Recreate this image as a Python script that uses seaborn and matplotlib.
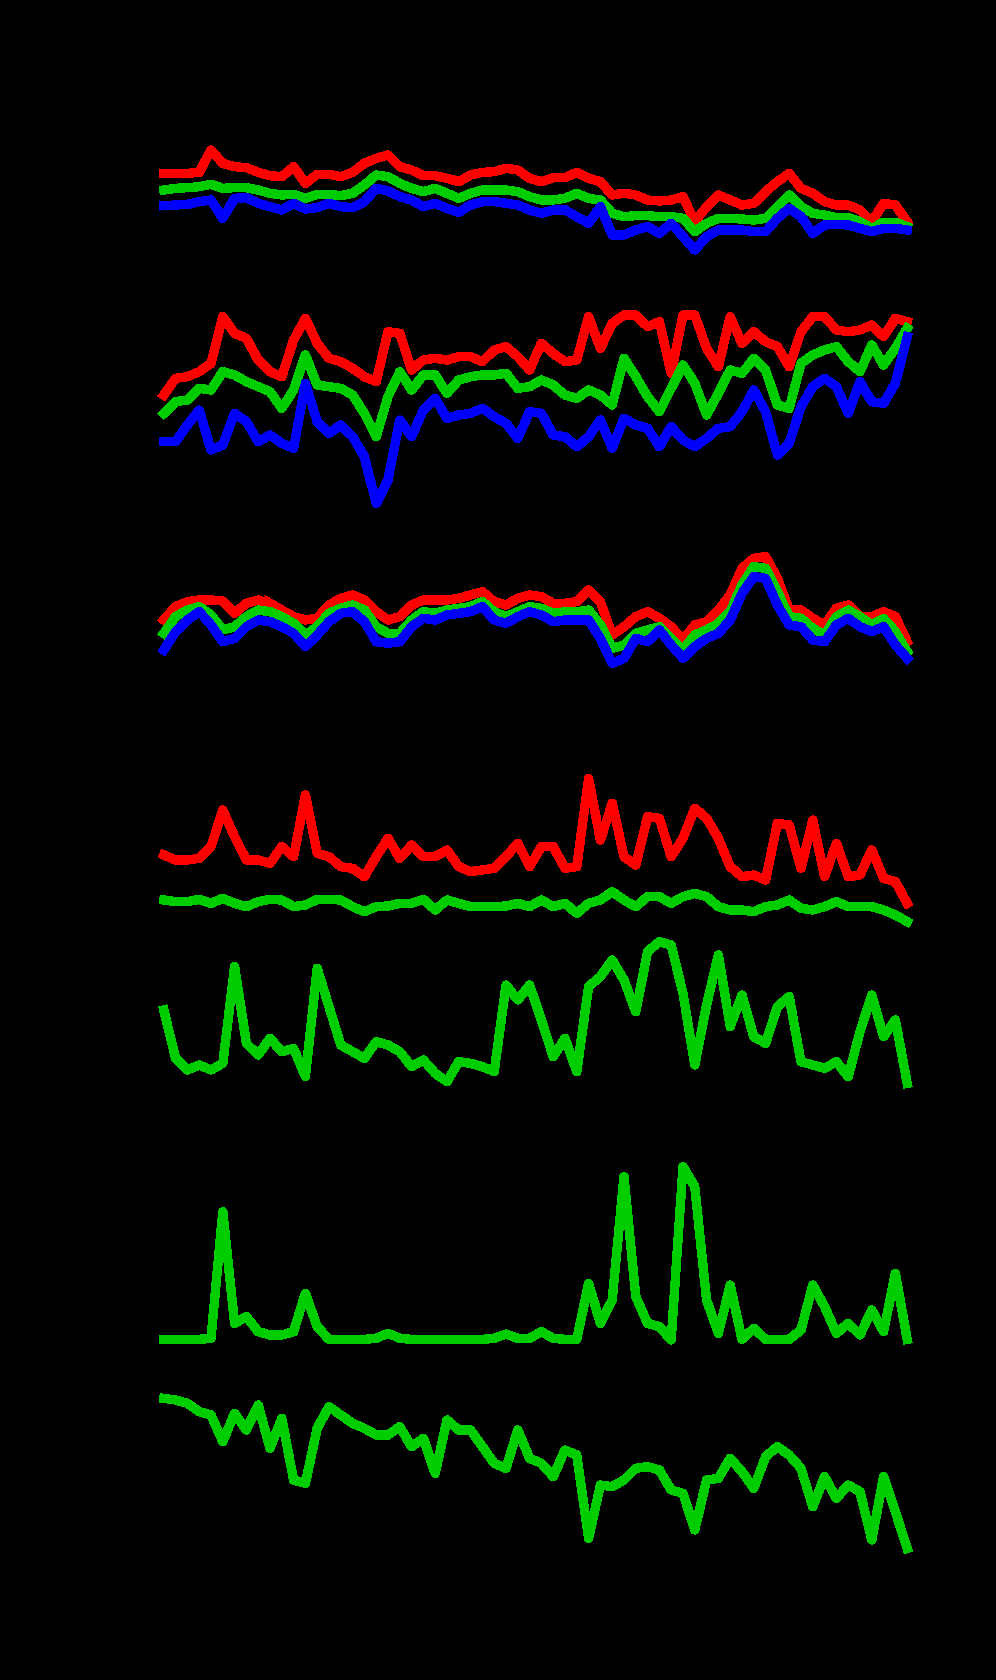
import numpy as np
import pandas as pd
import matplotlib
matplotlib.use("Agg")
import matplotlib.pyplot as plt
import seaborn as sns

# ── DATA (arbitrary units per panel) ──────────────────────────────────
a_red = [275, 275, 275, 278, 345, 305, 295, 292, 278, 268, 265, 295, 245, 272, 272, 265,
         278, 305, 320, 330, 295, 285, 268, 268, 260, 250, 270, 278, 280, 290, 285, 260,
         250, 262, 262, 278, 260, 250, 210, 215, 210, 195, 192, 195, 205, 130, 175, 210,
         195, 180, 185, 220, 250, 275, 230, 215, 190, 180, 180, 165, 130, 185, 180, 130]
a_green = [225, 230, 232, 235, 242, 230, 232, 232, 225, 215, 210, 212, 200, 212, 212, 208,
           215, 240, 270, 265, 245, 230, 220, 230, 215, 200, 215, 225, 225, 225, 220, 205,
           195, 195, 200, 215, 200, 195, 155, 145, 148, 148, 145, 145, 140, 100, 125, 140,
           140, 138, 135, 140, 175, 210, 175, 155, 150, 142, 142, 130, 110, 128, 128, 115]
a_blue = [178, 180, 182, 190, 195, 140, 200, 202, 185, 175, 165, 185, 168, 172, 185, 175,
          172, 190, 230, 222, 205, 195, 175, 185, 170, 158, 180, 190, 190, 185, 180, 165,
          155, 165, 165, 145, 125, 175, 90, 90, 105, 115, 95, 125, 85, 45, 85, 105,
          105, 105, 100, 100, 140, 170, 145, 95, 120, 122, 120, 110, 100, 110, 110, 105]

b_red = [360, 410, 415, 430, 455, 595, 545, 530, 465, 430, 415, 525, 590, 515, 470, 460,
         440, 415, 400, 550, 545, 435, 465, 470, 465, 475, 475, 460, 495, 505, 475, 435,
         515, 485, 460, 465, 595, 500, 575, 600, 600, 565, 580, 425, 600, 600, 500, 445,
         595, 515, 550, 520, 505, 445, 550, 595, 595, 555, 550, 555, 570, 535, 590, 580]
b_green = [305, 340, 345, 380, 375, 430, 420, 400, 385, 370, 320, 375, 480, 390, 385, 380,
           360, 305, 235, 355, 430, 375, 420, 420, 365, 405, 415, 420, 420, 425, 380, 385,
           405, 390, 360, 350, 375, 360, 330, 470, 415, 355, 310, 380, 450, 395, 300, 365,
           435, 425, 470, 435, 330, 320, 455, 480, 495, 505, 460, 430, 510, 450, 500, 560]
b_blue = [220, 220, 270, 315, 195, 210, 305, 280, 220, 240, 215, 200, 395, 280, 245, 270,
          235, 175, 35, 105, 285, 235, 315, 350, 290, 300, 305, 320, 295, 275, 230, 310,
          305, 240, 235, 205, 235, 285, 200, 290, 270, 260, 205, 265, 225, 205, 230, 260,
          265, 310, 375, 310, 180, 215, 325, 385, 410, 385, 305, 400, 340, 335, 395, 535]

c_red = [165, 205, 220, 225, 225, 222, 185, 215, 225, 215, 195, 175, 165, 170, 210, 230,
         240, 225, 190, 165, 175, 210, 225, 225, 225, 230, 240, 250, 220, 210, 230, 240,
         235, 215, 215, 220, 255, 220, 120, 145, 175, 190, 170, 145, 105, 150, 160, 195,
         240, 320, 350, 355, 290, 195, 195, 170, 150, 200, 210, 175, 175, 190, 175, 100]
c_green = [125, 175, 195, 205, 180, 135, 145, 175, 195, 190, 175, 155, 120, 145, 185, 200,
           210, 195, 145, 125, 125, 165, 190, 185, 195, 200, 205, 220, 190, 175, 190, 205,
           200, 185, 190, 190, 195, 150, 80, 90, 125, 135, 145, 110, 75, 120, 135, 155,
           190, 270, 325, 320, 250, 175, 170, 140, 120, 175, 195, 175, 150, 170, 130, 70]
c_blue = [75, 130, 165, 190, 150, 100, 110, 145, 165, 160, 145, 125, 85, 120, 160, 185,
          190, 160, 100, 95, 100, 145, 170, 165, 180, 185, 190, 205, 165, 155, 175, 190,
          180, 160, 165, 165, 165, 110, 35, 50, 110, 100, 135, 90, 50, 85, 110, 125,
          165, 245, 295, 290, 210, 150, 145, 105, 100, 150, 170, 145, 130, 145, 90, 50]

d_red = [255, 240, 240, 245, 280, 390, 310, 240, 240, 230, 280, 250, 435, 260, 250, 220,
         215, 190, 250, 305, 245, 285, 250, 250, 270, 220, 205, 210, 215, 250, 290, 220,
         280, 280, 215, 220, 485, 300, 410, 250, 225, 370, 365, 250, 305, 395, 365, 305,
         220, 190, 195, 180, 350, 345, 215, 360, 190, 290, 190, 195, 270, 185, 175, 110]
d_green = [120, 115, 115, 122, 110, 125, 110, 100, 115, 122, 120, 100, 105, 122, 122, 120,
           100, 85, 100, 102, 110, 110, 122, 90, 120, 110, 100, 100, 100, 102, 110, 100,
           120, 100, 110, 80, 110, 120, 145, 120, 100, 130, 130, 110, 130, 140, 130, 100,
           90, 90, 85, 100, 105, 120, 95, 90, 100, 115, 100, 100, 100, 90, 75, 55]

e_green = [240, 95, 60, 75, 60, 80, 370, 140, 105, 155, 115, 125, 40, 365, 250, 135,
           115, 95, 145, 135, 115, 70, 90, 50, 25, 85, 80, 70, 55, 315, 270, 315,
           210, 100, 155, 55, 310, 340, 390, 330, 235, 415, 445, 435, 290, 75, 255, 405,
           190, 285, 160, 140, 250, 280, 85, 75, 65, 85, 40, 175, 285, 160, 210, 20]

f_green = [17, 17, 17, 17, 20, 400, 65, 85, 40, 30, 30, 40, 155, 55, 17, 17,
           17, 17, 20, 35, 20, 17, 17, 17, 17, 17, 17, 17, 20, 33, 20, 20,
           40, 20, 17, 17, 185, 65, 135, 505, 145, 65, 55, 15, 535, 475, 135, 35,
           180, 17, 50, 17, 17, 17, 45, 180, 115, 35, 65, 30, 105, 40, 215, 17]

g_green = [470, 465, 455, 430, 420, 340, 425, 375, 450, 320, 410, 225, 215, 380, 445, 420,
           395, 380, 360, 360, 385, 325, 350, 245, 405, 375, 375, 325, 275, 260, 375, 290,
           275, 235, 315, 300, 50, 210, 205, 225, 260, 265, 255, 195, 185, 75, 225, 230,
           290, 250, 200, 295, 325, 300, 260, 145, 235, 170, 210, 190, 45, 235, 130, 20]

RED, GREEN, BLUE = "#ff0000", "#00cd00", "#0000ff"

# panel: (series list, top px, bottom px, y-range)
panels = [
    ([(a_red, RED), (a_green, GREEN), (a_blue, BLUE)], 135, 265, 390),
    ([(b_red, RED), (b_green, GREEN), (b_blue, BLUE)], 300, 515, 645),
    ([(c_red, RED), (c_green, GREEN), (c_blue, BLUE)], 545, 675, 390),
    ([(d_red, RED), (d_green, GREEN)], 760, 940, 540),
    ([(e_green, GREEN)], 930, 1090, 480),
    ([(f_green, GREEN)], 1150, 1345, 585),
    ([(g_green, GREEN)], 1385, 1555, 510),
]

W, H = 996, 1680
fig = plt.figure(figsize=(W / 100, H / 100), dpi=100, facecolor="black")

for series, top, bot, yr in panels:
    ax = fig.add_axes([160 / W, 1 - bot / H, 752 / W, (bot - top) / H])
    ax.set_facecolor("none")
    for vals, col in series:
        df = pd.DataFrame({"x": np.linspace(0, 1, len(vals)), "y": vals})
        sns.lineplot(data=df, x="x", y="y", color=col, linewidth=6,
                     antialiased=False, ax=ax, clip_on=False)
    ax.set_xlim(-0.0051, 1.0065)
    ax.set_ylim(0, yr)
    ax.axis("off")

fig.savefig("out.png", dpi=100, facecolor="black")
